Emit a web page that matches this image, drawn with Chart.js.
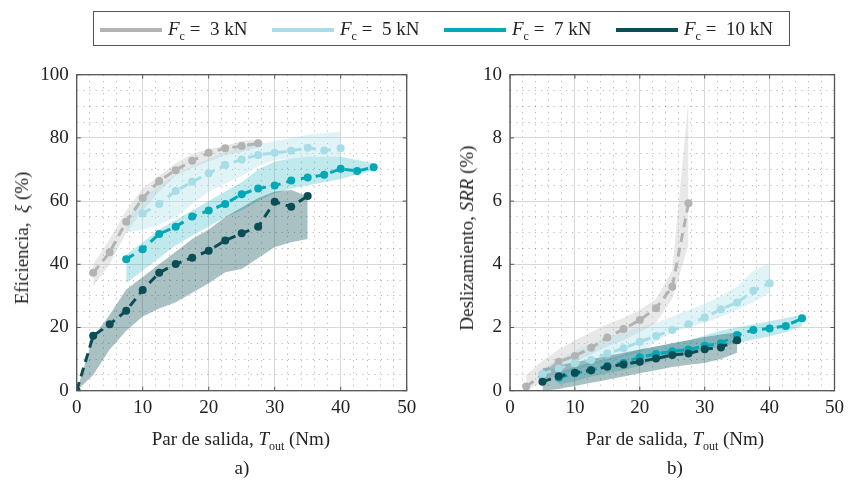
<!DOCTYPE html>
<html>
  <script src="https://cdn.jsdelivr.net/npm/chart.js"></script>
  <body style="margin:0; background:#fff;">
    <div id="wrap" style="position:relative; width:850px; height:483px; font-family:'Liberation Serif', 'Times New Roman', serif; color:#222;">
      <canvas id="chartA" width="425" height="483" style="position:absolute; left:0; top:0;"></canvas>
      <canvas id="chartB" width="425" height="483" style="position:absolute; left:425px; top:0;"></canvas>

      <div id="legend" style="position:absolute; left:93px; top:11px; width:695px; height:33px; border:1px solid #555; background:#fff; font-size:19px; white-space:nowrap;"></div>

      <div style="position:absolute; left:22px; top:238px; transform:translate(-50%,-50%) rotate(-90deg); font-size:19px; white-space:nowrap;">Eficiencia, &nbsp;<i>ξ</i> (%)</div>
      <div style="position:absolute; left:467px; top:238px; transform:translate(-50%,-50%) rotate(-90deg); font-size:19px; white-space:nowrap;">Deslizamiento, <i>SRR</i> (%)</div>

      <div style="position:absolute; left:241px; top:441px; transform:translate(-50%,-50%); font-size:19px; white-space:nowrap;">Par de salida, <i>T</i><sub style="font-size:12px;">out</sub> (Nm)</div>
      <div style="position:absolute; left:675px; top:441px; transform:translate(-50%,-50%); font-size:19px; white-space:nowrap;">Par de salida, <i>T</i><sub style="font-size:12px;">out</sub> (Nm)</div>
      <div style="position:absolute; left:242px; top:468px; transform:translate(-50%,-50%); font-size:19px;">a)</div>
      <div style="position:absolute; left:675px; top:468px; transform:translate(-50%,-50%); font-size:19px;">b)</div>
    </div>

    <script>
      // series labels and colours
      var loads = ["3", "5", "7", "10"];
      var lineColors = ["#b3b3b3", "#a6dde6", "#00a9b5", "#0b4d55"];
      var bandColors = ["rgba(180,180,180,0.3)", "rgba(166,221,230,0.35)", "rgba(0,169,181,0.25)", "rgba(11,77,85,0.35)"];

      // ---- a) efficiency (%) vs output torque (Nm)
      var x3 = [2.5, 5, 7.5, 10, 12.5, 15, 17.5, 20, 22.5, 25, 27.5];
      var eff3 = [37.3, 43.8, 53.5, 60.9, 66.4, 69.8, 72.8, 75.3, 76.7, 77.4, 78.3];
      var eff3Lo = [33, 40, 50, 57, 63, 68, 70.5, 72.5, 74.5, 75.5, 77];
      var eff3Hi = [40, 48, 57, 64, 68, 72, 75, 76.5, 77.5, 79, 79.5];

      var x5 = [10, 12.5, 15, 17.5, 20, 22.5, 25, 27.5, 30, 32.5, 35, 37.5, 40];
      var eff5 = [56.1, 59.1, 63.2, 66.1, 68.8, 71.4, 73.2, 74.6, 75.3, 75.9, 76.9, 76, 76.7];
      var eff5Band = [7.5, 10, 12.5, 15, 17.5, 20, 22.5, 25, 27.5, 30, 32.5, 35, 37.5, 40];
      var eff5Lo = [50, 51, 52.5, 55, 59, 63, 65.5, 68, 71, 73, 73.5, 74, 74, 74];
      var eff5Hi = [54, 61, 65, 68.5, 71, 73.5, 75.5, 77, 78, 79, 80, 81, 81.5, 82];

      var x7 = [7.5, 10, 12.5, 15, 17.5, 20, 22.5, 25, 27.5, 30, 32.5, 35, 37.5, 40, 42.5, 45];
      var eff7 = [41.6, 44.8, 49.6, 51.9, 55.1, 57, 59.1, 62.2, 64, 64.9, 66.5, 67.5, 68.3, 70.2, 69.5, 70.7];
      var eff7Lo = [34, 38, 42, 46, 49, 52, 55, 57, 60, 62.5, 64, 65, 66, 67, 68.5, 69.5];
      var eff7Hi = [43, 47, 51, 54, 57, 60, 63, 66, 70, 72.5, 73.5, 74, 74, 74, 73, 72];

      var x10 = [0, 2.5, 5, 7.5, 10, 12.5, 15, 17.5, 20, 22.5, 25, 27.5, 30, 32.5, 35];
      var eff10 = [0, 17.4, 21, 25.3, 31.9, 37.3, 40.1, 42.1, 44.3, 47.5, 49.8, 51.9, 59.8, 58.2, 61.6];
      var eff10Lo = [0, 5, 13, 19, 23.5, 26, 28, 31, 34, 37.5, 38.5, 42, 45.5, 47, 48];
      var eff10Hi = [0, 17, 24, 32, 36, 40, 44, 48, 51, 55, 58, 61, 63, 63.5, 61.5];

      // ---- b) slip ratio SRR (%) vs output torque (Nm)
      var srr3 = [0.13, 0.5, 0.92, 1.1, 1.36, 1.68, 1.95, 2.24, 2.61, 3.29, 5.93];
      var srr3Lo = [0, 0.3, 0.65, 0.9, 1.15, 1.4, 1.6, 1.85, 2.15, 2.9, 4.6];
      var srr3Hi = [0.5, 0.95, 1.3, 1.6, 1.85, 2.1, 2.3, 2.55, 2.9, 3.8, 9.2];

      var xs5 = [5, 7.5, 10, 12.5, 15, 17.5, 20, 22.5, 25, 27.5, 30, 32.5, 35, 37.5, 40];
      var srr5 = [0.53, 0.7, 0.87, 0.97, 1.18, 1.34, 1.55, 1.73, 1.92, 2.1, 2.32, 2.58, 2.79, 3.16, 3.4];
      var srr5Lo = [0.3, 0.5, 0.65, 0.8, 0.95, 1.1, 1.2, 1.55, 1.85, 2.0, 2.15, 2.35, 2.55, 2.8, 3.1];
      var srr5Hi = [0.7, 1.0, 1.25, 1.5, 1.7, 1.85, 2.0, 2.15, 2.35, 2.55, 2.75, 3.0, 3.3, 3.8, 4.05];

      var srr7 = [0.41, 0.55, 0.65, 0.79, 0.88, 1.06, 1.16, 1.25, 1.3, 1.42, 1.5, 1.76, 1.92, 1.97, 2.05, 2.29];
      var srr7Lo = [0.2, 0.3, 0.45, 0.55, 0.65, 0.8, 0.95, 1.05, 1.15, 1.28, 1.4, 1.5, 1.62, 1.72, 1.85, 2.05];
      var srr7Hi = [0.6, 0.75, 0.9, 1.0, 1.15, 1.3, 1.4, 1.5, 1.6, 1.75, 1.9, 2.0, 2.1, 2.2, 2.3, 2.4];

      var xs10 = [5, 7.5, 10, 12.5, 15, 17.5, 20, 22.5, 25, 27.5, 30, 32.5, 35];
      var srr10 = [0.28, 0.46, 0.57, 0.65, 0.76, 0.83, 0.92, 1.02, 1.13, 1.18, 1.31, 1.37, 1.6];
      var srr10Lo = [0, 0.05, 0.15, 0.25, 0.35, 0.45, 0.55, 0.65, 0.75, 0.82, 0.88, 1.0, 1.2];
      var srr10Hi = [0.7, 0.8, 0.9, 1.0, 1.1, 1.2, 1.3, 1.4, 1.5, 1.6, 1.7, 1.78, 1.85];

      var fontFam = "'Liberation Serif', 'Times New Roman', serif";

      // legend in html so the subscript and italics show
      var legendHtml = "";
      loads.forEach(function (l, i) {
        var x0 = 6 + i * 172;
        legendHtml += '<div style="position:absolute; left:' + x0 + 'px; top:16px; width:62px; height:4px; background:' + lineColors[i] + ';"></div>' +
          '<div style="position:absolute; left:' + (x0 + 68) + 'px; top:6px; line-height:22px;"><i>F</i><sub style="font-size:12px;">c</sub>&nbsp;=&nbsp; ' + l + ' kN</div>';
      });
      document.getElementById('legend').innerHTML = legendHtml;

      function pts(xs, ys) {
        return xs.map(function (x, i) { return { x: x, y: ys[i] }; });
      }

      // order: dark first so it is painted on top
      function buildDatasets(series) {
        var sets = [];
        series.forEach(function (s) {
          sets.push({
            data: pts(s.x, s.y),
            borderColor: lineColors[s.c],
            backgroundColor: lineColors[s.c],
            borderWidth: 3,
            borderDash: [9, 6],
            pointRadius: 4,
            pointBorderWidth: 0,
            pointBackgroundColor: lineColors[s.c],
            fill: false
          });
        });
        series.forEach(function (s) {
          var lowIdx = sets.length;
          sets.push({
            data: pts(s.bx, s.lo),
            borderWidth: 0,
            borderColor: 'rgba(0,0,0,0)',
            pointRadius: 0,
            fill: false
          });
          sets.push({
            data: pts(s.bx, s.hi),
            borderWidth: 0,
            borderColor: 'rgba(0,0,0,0)',
            pointRadius: 0,
            backgroundColor: bandColors[s.c],
            fill: lowIdx
          });
        });
        return sets;
      }

      function isMajor(v, step) {
        var r = v / step;
        return Math.abs(r - Math.round(r)) < 1e-6;
      }

      // box around the plot and small inward tick marks
      var frame = {
        id: 'frame',
        afterDraw: function (chart) {
          var a = chart.chartArea, c = chart.ctx;
          var xs = chart.scales.x, ys = chart.scales.y;
          c.save();
          c.strokeStyle = '#555';
          c.lineWidth = 1.3;
          c.strokeRect(a.left, a.top, a.right - a.left, a.bottom - a.top);
          c.lineWidth = 1;
          xs.ticks.forEach(function (t) {
            if (!isMajor(t.value, 10)) return;
            var px = xs.getPixelForValue(t.value);
            c.beginPath();
            c.moveTo(px, a.bottom); c.lineTo(px, a.bottom - 4);
            c.moveTo(px, a.top); c.lineTo(px, a.top + 4);
            c.stroke();
          });
          ys.ticks.forEach(function (t) {
            if (!isMajor(t.value, chart.options.majorY)) return;
            var py = ys.getPixelForValue(t.value);
            c.beginPath();
            c.moveTo(a.left, py); c.lineTo(a.left + 4, py);
            c.moveTo(a.right, py); c.lineTo(a.right - 4, py);
            c.stroke();
          });
          c.restore();
        }
      };

      function makeChart(id, series, yMax, yStep, yMajor, yAxisWidth, padRight) {
        return new Chart(document.getElementById(id), {
          type: 'line',
          data: { datasets: buildDatasets(series) },
          plugins: [frame],
          options: {
            responsive: false,
            animation: false,
            majorY: yMajor,
            layout: { padding: { left: 0, right: padRight, top: 74.7, bottom: 62.3 } },
            plugins: {
              legend: { display: false },
              tooltip: { enabled: false },
              filler: { propagate: false }
            },
            elements: { line: { tension: 0 } },
            scales: {
              x: {
                type: 'linear',
                min: 0,
                max: 50,
                afterFit: function (s) { s.height = 30; },
                ticks: {
                  stepSize: 2,
                  autoSkip: false,
                  maxRotation: 0,
                  padding: 6,
                  color: '#222',
                  font: { family: fontFam, size: 19 },
                  callback: function (v) { return isMajor(v, 10) ? v : ''; }
                },
                grid: {
                  drawTicks: false,
                  color: function (ctx) { return isMajor(ctx.tick.value, 10) ? '#d8d8d8' : 'rgba(0,0,0,0.28)'; },
                  lineWidth: 1
                },
                border: {
                  display: false,
                  dash: function (ctx) { return isMajor(ctx.tick.value, 10) ? [] : [1.2, 5]; }
                }
              },
              y: {
                min: 0,
                max: yMax,
                afterFit: function (s) { s.width = yAxisWidth; },
                ticks: {
                  stepSize: yStep,
                  autoSkip: false,
                  padding: 8,
                  color: '#222',
                  font: { family: fontFam, size: 19 },
                  callback: function (v) { return isMajor(v, yMajor) ? Math.round(v) : ''; }
                },
                grid: {
                  drawTicks: false,
                  color: function (ctx) { return isMajor(ctx.tick.value, yMajor) ? '#d8d8d8' : 'rgba(0,0,0,0.28)'; },
                  lineWidth: 1
                },
                border: {
                  display: false,
                  dash: function (ctx) { return isMajor(ctx.tick.value, yMajor) ? [] : [1.2, 5]; }
                }
              }
            }
          }
        });
      }

      makeChart('chartA', [
        { c: 3, x: x10, y: eff10, bx: x10, lo: eff10Lo, hi: eff10Hi },
        { c: 2, x: x7, y: eff7, bx: x7, lo: eff7Lo, hi: eff7Hi },
        { c: 1, x: x5, y: eff5, bx: eff5Band, lo: eff5Lo, hi: eff5Hi },
        { c: 0, x: x3, y: eff3, bx: x3, lo: eff3Lo, hi: eff3Hi }
      ], 100, 5, 20, 76.7, 18.3);

      makeChart('chartB', [
        { c: 3, x: xs10, y: srr10, bx: xs10, lo: srr10Lo, hi: srr10Hi },
        { c: 2, x: x7, y: srr7, bx: x7, lo: srr7Lo, hi: srr7Hi },
        { c: 1, x: xs5, y: srr5, bx: xs5, lo: srr5Lo, hi: srr5Hi },
        { c: 0, x: x3, y: srr3, bx: x3, lo: srr3Lo, hi: srr3Hi }
      ], 10, 0.5, 2, 85, 10);
    </script>
  </body>
</html>
